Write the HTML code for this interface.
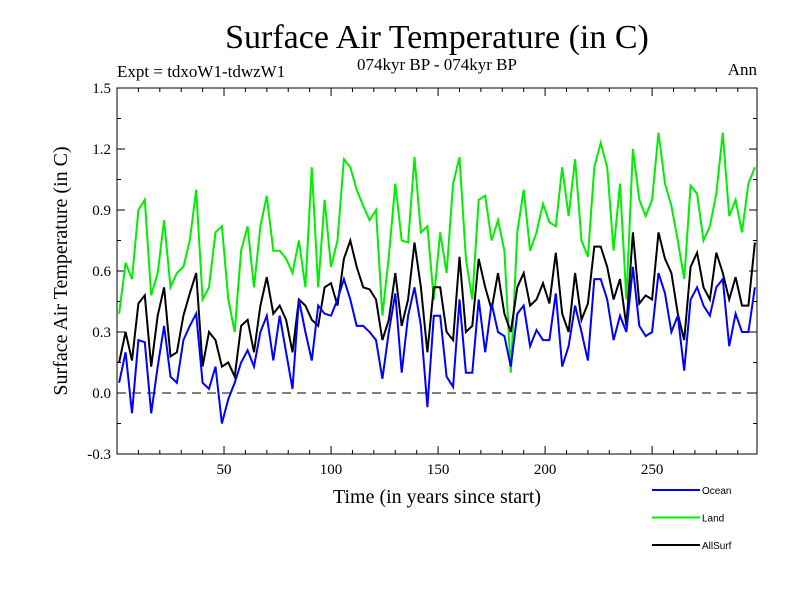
<!DOCTYPE html>
<html><head><meta charset="utf-8"><style>
body{margin:0;background:#fff;}
svg{display:block;font-family:"Liberation Serif",serif;}
</style></head><body>
<svg id="chart" width="800" height="600">
<text x="437" y="48" font-size="34" text-anchor="middle">Surface Air Temperature (in C)</text>
<text x="117" y="77" font-size="17">Expt = tdxoW1-tdwzW1</text>
<text x="437" y="70" font-size="17" text-anchor="middle">074kyr BP - 074kyr BP</text>
<text x="757" y="75" font-size="17" text-anchor="end">Ann</text>
<text x="437" y="503" font-size="20" text-anchor="middle">Time (in years since start)</text>
<text transform="translate(67,271) rotate(-90)" font-size="20" text-anchor="middle">Surface Air Temperature (in C)</text>
<g id="axes"></g>
<g id="series"></g>
<g id="legend"></g>
</svg>
<script>
const land=[0.39,0.64,0.56,0.90,0.95,0.48,0.59,0.85,0.52,0.59,0.62,0.75,1.00,0.46,0.52,0.79,0.82,0.46,0.30,0.70,0.82,0.52,0.82,0.97,0.70,
0.70,0.66,0.59,0.75,0.52,1.11,0.52,0.95,0.62,0.75,1.15,1.11,1.00,0.92,0.85,0.90,0.38,0.67,1.03,0.75,0.74,1.16,0.79,0.82,0.46,
0.79,0.59,1.03,1.16,0.66,0.46,0.95,0.97,0.75,0.85,0.70,0.10,0.79,1.00,0.70,0.79,0.93,0.84,0.82,1.11,0.87,1.15,0.75,0.67,1.11,
1.23,1.11,0.70,1.03,0.46,1.20,0.95,0.87,0.95,1.28,1.03,0.92,0.75,0.56,1.02,0.98,0.75,0.82,0.98,1.28,0.87,0.95,0.79,1.03,1.11];
const allsurf=[0.15,0.30,0.16,0.44,0.48,0.13,0.38,0.52,0.18,0.20,0.38,0.49,0.59,0.13,0.30,0.26,0.13,0.15,0.08,0.33,0.36,0.20,0.43,0.57,0.39,
0.43,0.36,0.20,0.46,0.43,0.36,0.33,0.52,0.54,0.43,0.66,0.75,0.62,0.52,0.51,0.46,0.26,0.36,0.59,0.33,0.46,0.74,0.52,0.20,0.52,
0.52,0.30,0.26,0.67,0.30,0.33,0.66,0.52,0.41,0.59,0.39,0.30,0.52,0.59,0.43,0.46,0.54,0.44,0.69,0.39,0.30,0.59,0.36,0.44,0.72,
0.72,0.62,0.46,0.56,0.33,0.79,0.44,0.48,0.46,0.79,0.66,0.59,0.39,0.26,0.62,0.69,0.52,0.46,0.69,0.59,0.46,0.57,0.43,0.43,0.74];
const ocean=[0.05,0.20,-0.10,0.26,0.25,-0.10,0.13,0.33,0.08,0.05,0.26,0.33,0.39,0.05,0.02,0.13,-0.15,-0.03,0.05,0.15,0.21,0.13,0.30,0.38,0.16,
0.38,0.20,0.02,0.46,0.30,0.16,0.43,0.39,0.38,0.46,0.56,0.46,0.33,0.33,0.30,0.26,0.07,0.30,0.49,0.10,0.38,0.52,0.33,-0.07,0.38,
0.38,0.08,0.03,0.46,0.10,0.10,0.46,0.20,0.44,0.30,0.28,0.13,0.39,0.43,0.23,0.31,0.26,0.26,0.49,0.13,0.23,0.43,0.30,0.16,0.56,
0.56,0.46,0.26,0.38,0.30,0.62,0.33,0.28,0.30,0.59,0.49,0.30,0.38,0.11,0.46,0.52,0.43,0.38,0.52,0.56,0.23,0.39,0.30,0.30,0.52];
const xTicks=[50,100,150,200,250];
const yTicks=[-0.3,0,0.3,0.6,0.9,1.2,1.5];
const yTickLabels=["-0.3","0.0","0.3","0.6","0.9","1.2","1.5"];
const seriesNames=["Ocean","Land","AllSurf"];
const seriesColors=["#0000ff","#00ee00","#000000"];

const NS="http://www.w3.org/2000/svg";
const L=117,R=757,T=88,B=454,X0=0,X1=299,Y0=-0.3,Y1=1.5;
const sx=v=>L+(v-X0)/(X1-X0)*(R-L);
const sy=v=>B-(v-Y0)/(Y1-Y0)*(B-T);
function mk(tag,attrs,parent){const e=document.createElementNS(NS,tag);for(const k in attrs)e.setAttribute(k,attrs[k]);parent.appendChild(e);return e;}
const axes=document.getElementById('axes');
const fr=mk('rect',{x:L,y:T,width:R-L,height:B-T,fill:'none',stroke:'#000','stroke-width':1},axes);


const zl=mk('line',{x1:L,x2:R,y1:sy(0),y2:sy(0),stroke:'#000','stroke-dasharray':'9,6'},axes);


yTicks.forEach((v,i)=>{
  const y=sy(v);
  mk('line',{x1:L,x2:L+8,y1:y,y2:y,stroke:'#000'},axes);
  mk('line',{x1:R-8,x2:R,y1:y,y2:y,stroke:'#000'},axes);
  if(i<yTicks.length-1){const ym=sy(v+0.15);mk('line',{x1:L,x2:L+4,y1:ym,y2:ym,stroke:'#000'},axes);mk('line',{x1:R-4,x2:R,y1:ym,y2:ym,stroke:'#000'},axes);}
  const t=mk('text',{x:L-6,y:y+5,'font-size':15,'text-anchor':'end'},axes);
  t.textContent=yTickLabels[i];
  
  
});
xTicks.forEach(v=>{
  const x=sx(v);
  mk('line',{x1:x,x2:x,y1:B,y2:B-8,stroke:'#000'},axes);
  mk('line',{x1:x,x2:x,y1:T,y2:T+8,stroke:'#000'},axes);
  const t=mk('text',{x:x,y:B+20,'font-size':15,'text-anchor':'middle'},axes);
  t.textContent=v;
  
  
});
for(let v=10;v<X1;v+=10){if(v%50){const x=sx(v);mk('line',{x1:x,x2:x,y1:B,y2:B-4,stroke:'#000'},axes);mk('line',{x1:x,x2:x,y1:T,y2:T+4,stroke:'#000'},axes);}}
const years=[];for(let i=0;i<ocean.length;i++)years.push(1+3*i);
const sg=document.getElementById('series');
[[land,1],[allsurf,2],[ocean,0]].forEach(([arr,ci])=>{
  const d=arr.map((v,i)=>(i?'L':'M')+sx(years[i]).toFixed(1)+','+sy(v).toFixed(1)).join('');
  const p=mk('path',{d:d,fill:'none',stroke:seriesColors[ci],'stroke-width':2},sg);
  
  
});
const lg=document.getElementById('legend');
seriesNames.forEach((n,i)=>{
  const y=490+i*27.5;
  const g=mk('g',{},lg);
  
  
  mk('line',{x1:652,x2:700,y1:y,y2:y,stroke:seriesColors[i],'stroke-width':2},g);
  const t=mk('text',{x:702,y:y+4,'font-size':10,'font-family':'Liberation Sans, sans-serif'},g);
  t.textContent=n;
});
</script>
</body></html>
